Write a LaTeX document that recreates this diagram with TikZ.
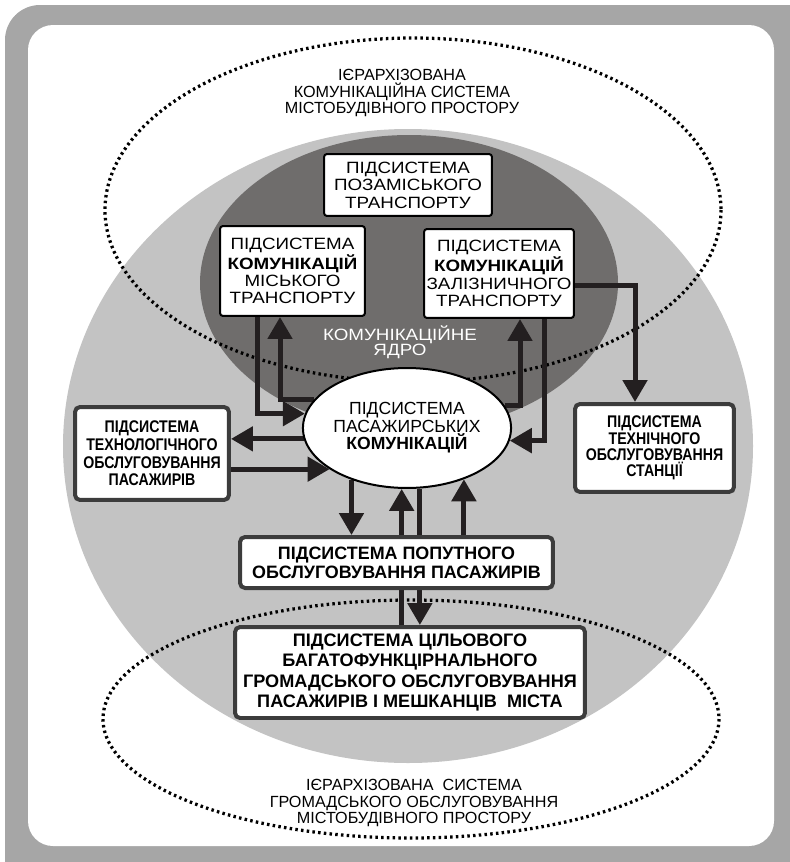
\documentclass[tikz,border=0pt]{standalone}
\usepackage{fontspec}
\setmainfont{Liberation Sans}
\newfontfamily\widesans{Liberation Sans}[FakeStretch=1.15]
\newfontfamily\narrowsans{Liberation Sans}[FakeStretch=0.84]
\usepackage{tikz}
\usetikzlibrary{positioning}
\usetikzlibrary{shapes.geometric}
\usetikzlibrary{arrows.meta}
\definecolor{framegrey}{HTML}{A6A6A6}
\definecolor{outergrey}{HTML}{C3C3C3}
\definecolor{coregrey}{HTML}{6F6D6C}
\definecolor{boxline}{HTML}{3C3C3C}
\definecolor{arrowc}{HTML}{231F20}
\pgfdeclarelayer{bg}
\pgfdeclarelayer{mid}
\pgfsetlayers{bg,mid,main}
\tikzset{corebox/.style={draw=black,fill=white,line width=0.04cm,rounded corners=0.06cm,
        inner sep=0pt,align=center,font=\widesans\fontsize{9.3}{9.9}\selectfont},
    sidebox/.style={draw=boxline,fill=white,line width=0.08cm,rounded corners=0.1cm,
        inner sep=0pt,align=center},
    flow/.style={draw=arrowc,line width=0.1cm,-{Triangle[width=0.48cm,length=0.44cm]}},
    dots/.style={line width=0.065cm,dash pattern=on 0.05cm off 0.065cm},
    eltext/.style={align=center,font=\fontsize{9.2}{9.3}\selectfont}}

\begin{document}
\begin{tikzpicture}[x=0.02cm,y=-0.02cm]
\useasboundingbox (0,0) rectangle (789,862);
\begin{pgfonlayer}{bg}
\fill[framegrey,rounded corners=0.7cm] (5,5) rectangle (830,900);
\fill[white,rounded corners=0.5cm] (28,25) rectangle (774,846);
\fill[outergrey] (408,446) ellipse [x radius=345,y radius=317];
\fill[coregrey] (409,283) ellipse [x radius=209,y radius=148];
\draw[dots] (413,210) ellipse [x radius=308,y radius=172];
\draw[dots] (411,719) ellipse [x radius=308,y radius=119];
\end{pgfonlayer}

\node[eltext] (toplabel) at (402,93) {ІЄРАРХІЗОВАНА\\КОМУНІКАЦІЙНА СИСТЕМА\\МІСТОБУДІВНОГО ПРОСТОРУ};
\node[eltext] (botlabel) at (414,803) {ІЄРАРХІЗОВАНА\ \ СИСТЕМА\\ГРОМАДСЬКОГО ОБСЛУГОВУВАННЯ\\МІСТОБУДІВНОГО ПРОСТОРУ};
\node[text=white,align=center,font=\widesans\fontsize{9.3}{8.6}\selectfont] (corename) at (400,342) {КОМУНІКАЦІЙНЕ\\ЯДРО};

\node[corebox,minimum width=3.36cm,minimum height=1.24cm] (suburb) at (408,185)
    {ПІДСИСТЕМА\\ПОЗАМІСЬКОГО\\ТРАНСПОРТУ};
\node[corebox,minimum width=2.9cm,minimum height=1.8cm] (city) at (292.5,271)
    {ПІДСИСТЕМА\\{\bfseries КОМУНІКАЦІЙ}\\МІСЬКОГО\\ТРАНСПОРТУ};
\node[corebox,minimum width=3.0cm,minimum height=1.78cm] (rail) at (499,273.5)
    {ПІДСИСТЕМА\\{\bfseries КОМУНІКАЦІЙ}\\ЗАЛІЗНИЧНОГО\\ТРАНСПОРТУ};
\node[ellipse,draw=black,fill=white,line width=0.04cm,inner sep=0pt,
    minimum width=3.08cm,minimum height=2.4cm,align=center,
    font=\fontsize{10}{9.9}\selectfont] (pass) at (407,428)
    {ПІДСИСТЕМА\\ПАСАЖИРСЬКИХ\\{\bfseries КОМУНІКАЦІЙ}};
\node[sidebox,minimum width=3.08cm,minimum height=1.86cm,
    font=\narrowsans\bfseries\fontsize{9.6}{10}\selectfont] (tech) at (152,453.5)
    {ПІДСИСТЕМА\\ТЕХНОЛОГІЧНОГО\\ОБСЛУГОВУВАННЯ\\ПАСАЖИРІВ};
\node[sidebox,minimum width=3.18cm,minimum height=1.76cm,
    font=\narrowsans\bfseries\fontsize{9.6}{9.2}\selectfont] (station) at (654.5,448)
    {ПІДСИСТЕМА\\ТЕХНІЧНОГО\\ОБСЛУГОВУВАННЯ\\СТАНЦІЇ};
\node[sidebox,minimum width=6.26cm,minimum height=1.02cm,
    font=\bfseries\fontsize{10.2}{10.8}\selectfont] (along) at (396.5,562.5)
    {ПІДСИСТЕМА ПОПУТНОГО\\ОБСЛУГОВУВАННЯ ПАСАЖИРІВ};
\node[sidebox,minimum width=7.0cm,minimum height=1.82cm,
    font=\bfseries\fontsize{10.3}{11.7}\selectfont] (target) at (410,672.5)
    {ПІДСИСТЕМА ЦІЛЬОВОГО\\БАГАТОФУНКЦІРНАЛЬНОГО\\ГРОМАДСЬКОГО ОБСЛУГОВУВАННЯ\\ПАСАЖИРІВ І МЕШКАНЦІВ\ \ МІСТА};

\begin{pgfonlayer}{mid}
\draw[flow] ([xshift=-0.71cm]city.south) |- (pass.172.5);
\draw[flow] (pass.163.8) -| ([xshift=-0.25cm]city.south);
\draw[flow] (pass.13.8) -| ([xshift=0.42cm]rail.south);
\draw[flow] ([xshift=0.92cm]rail.south) |- (pass.353.3);
\draw[flow] (pass.186.7) -- (pass.186.7 -| tech.east);
\draw[flow] (tech.east |- pass.208.2) -- (pass.208.2);
\draw[flow] ([yshift=-0.23cm]rail.east) -| ([xshift=-0.39cm]station.north);
\draw[flow] (pass.223.4) -- (pass.223.4 |- along.north);
\draw[flow] (target.north -| pass.265.2) -- (pass.265.2);
\draw[flow] (pass.282.4) -- (pass.282.4 |- target.north);
\draw[flow] (along.north -| pass.318.6) -- (pass.318.6);
\end{pgfonlayer}
\end{tikzpicture}
\end{document}
